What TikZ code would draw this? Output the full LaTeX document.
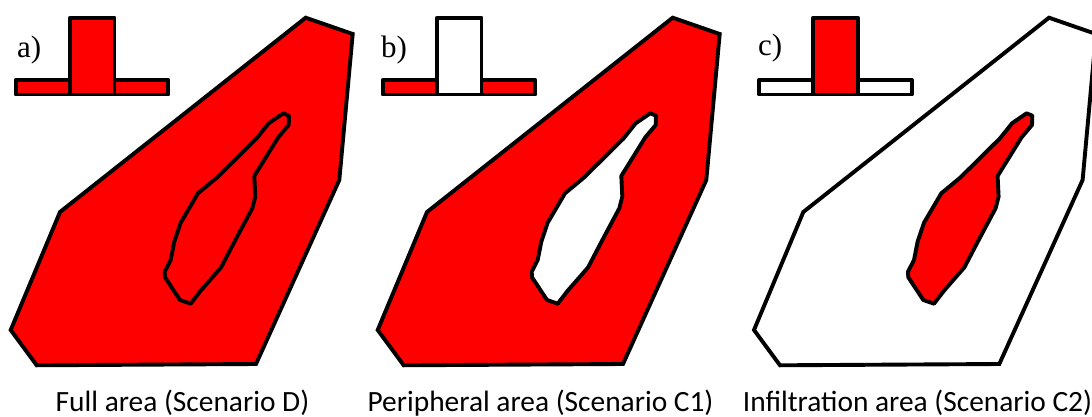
\documentclass[tikz,border=0pt]{standalone}
\usepackage{fontspec}
\usepackage{xcolor}
\setmainfont{Liberation Serif}
\newfontfamily\capfont{Carlito}
\definecolor{deepred}{RGB}{255,0,0}
\tikzset{
    outline/.style={draw=black,line width=3.9pt,line join=miter},
    lakeline/.style={draw=black,line width=3.9pt,line join=round},
    tag/.style={anchor=base west,inner sep=0pt,font=\fontsize{31}{31}\selectfont},
    caption/.style={anchor=base,inner sep=0pt,font=\capfont\fontsize{29.4}{29.4}\selectfont},
}
% #1 x shift, #2 wing fill, #3 stem fill, #4 area fill, #5 lake fill
\newcommand{\sitepanel}[5]{
\begin{scope}[xshift=#1pt]
\draw[lakeline,fill=#2] (15.7,80) rectangle (168.3,94.5);
\draw[lakeline,fill=#3] (70,17.7) rectangle (114.5,94.5);
\draw[outline,fill=#4] (305.7,17.7) -- (352.7,34) -- (339.3,180) -- (256,364) -- (36.7,365.3) -- (10.7,330) -- (60,212) -- cycle;
\draw[lakeline,fill=#5] (283.3,113.3) -- (289,115.7) -- (288.7,125) -- (278.3,137.3) -- (254.3,176) -- (255.3,196.7) -- (252.3,208.3) -- (236.7,237.5) -- (221,267.5) -- (200.7,290.7) -- (190.7,303.7) -- (180,300) -- (165,277.3) -- (164.7,271.7) -- (170.7,260) -- (174.3,241.7) -- (180.7,222.7) -- (198,193.3) -- (217.3,177.3) -- (256.7,138.3) -- (268.7,123.3) -- cycle;
\end{scope}
}

\begin{document}
\begin{tikzpicture}[x=1pt,y=-1pt]
\useasboundingbox (0,0) rectangle (1092,417);
\sitepanel{0}{deepred}{deepred}{deepred}{deepred}
\sitepanel{367}{deepred}{white}{deepred}{white}
\sitepanel{743.3}{white}{deepred}{white}{deepred}
\node[tag] (taga) at (17,58) {a)};
\node[tag] (tagb) at (381,58) {b)};
\node[tag] (tagc) at (758,56) {c)};
\node[caption] (capa) at (182.5,411.5) {Full area (Scenario D)};
\node[caption] (capb) at (540.5,411.5) {Peripheral area (Scenario C1)};
\node[caption] (capc) at (917.5,411.5) {Infiltration area (Scenario C2)};
\end{tikzpicture}
\end{document}
